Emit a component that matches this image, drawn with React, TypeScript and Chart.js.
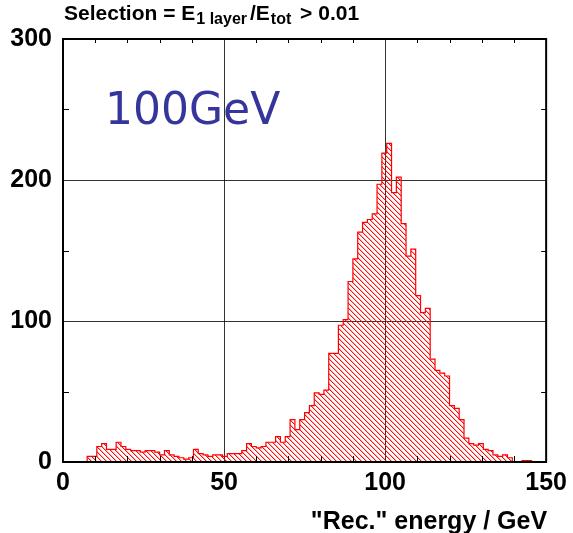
import React, { useEffect, useRef } from 'react';
import { Chart, registerables } from 'chart.js';
Chart.register(...registerables);

// Histogram: 100 bins from 0 to 150 GeV
const BIN_MIN = 0;
const BIN_WIDTH = 1.5;
const counts = [
  0, 0, 0, 0, 0, 4, 4, 11, 13, 9,
  9, 14, 11, 9, 8, 8, 7, 8, 8, 7,
  5, 8, 5, 4, 3, 2, 3, 9, 6, 5,
  4, 5, 5, 4, 6, 6, 6, 8, 13, 11,
  10, 11, 14, 14, 18, 14, 18, 30, 23, 30,
  35, 40, 49, 48, 51, 77, 77, 97, 101, 128,
  144, 163, 170, 172, 176, 197, 219, 226, 191, 202,
  169, 146, 151, 118, 106, 109, 73, 65, 63, 61,
  40, 38, 30, 17, 13, 12, 13, 9, 8, 5,
  4, 5, 3, 0, 0, 1, 1, 0, 0, 0,
];
const xMajorTicks = [0, 50, 100, 150];
const xMinorTicks = [10, 20, 30, 40, 60, 70, 80, 90, 110, 120, 130, 140];
const yMajorTicks = [0, 100, 200, 300];
const yMinorTicks = [50, 150, 250];
const titleParts = [
  { text: 'Selection = E', sub: false },
  { text: '1 layer', sub: true },
  { text: '/E', sub: false },
  { text: 'tot', sub: true },
  { text: ' > 0.01', sub: false },
];
const xAxisTitle = '"Rec." energy / GeV';
const energyLabel = '100GeV';

const FONT = '"Liberation Sans", Arial, Helvetica, sans-serif';

function makeHatch(): CanvasPattern | string {
  const n = 5;
  const c = document.createElement('canvas');
  c.width = n;
  c.height = n;
  const g = c.getContext('2d');
  if (!g) return 'rgba(255,0,0,0.3)';
  for (let i = 0; i < n; i++) {
    g.fillStyle = 'rgba(255,0,0,0.95)';
    g.fillRect(i, i, 1, 1);
    g.fillStyle = 'rgba(255,0,0,0.3)';
    g.fillRect((i + 1) % n, i, 1, 1);
  }
  const p = g.createPattern(c, 'repeat');
  return p || 'rgba(255,0,0,0.3)';
}

const overlayPlugin = {
  id: 'overlay',
  afterDatasetsDraw(chart: any) {
    const { ctx, chartArea: a, scales } = chart;
    const xs = scales.x;
    const ys = scales.y;
    ctx.save();
    ctx.strokeStyle = '#000';
    ctx.lineWidth = 1;
    ctx.beginPath();
    for (const v of xMinorTicks) {
      const px = Math.round(xs.getPixelForValue(v)) + 0.5;
      ctx.moveTo(px, a.bottom);
      ctx.lineTo(px, a.bottom - 6);
      ctx.moveTo(px, a.top);
      ctx.lineTo(px, a.top + 4);
    }
    for (const v of yMinorTicks) {
      const py = Math.round(ys.getPixelForValue(v)) + 0.5;
      ctx.moveTo(a.left, py);
      ctx.lineTo(a.left + 6, py);
      ctx.moveTo(a.right, py);
      ctx.lineTo(a.right - 5, py);
    }
    ctx.stroke();
    ctx.lineWidth = 2;
    ctx.strokeRect(a.left, a.top, a.right - a.left, a.bottom - a.top);
    ctx.restore();
  },
  afterDraw(chart: any) {
    const { ctx, chartArea: a } = chart;
    ctx.save();
    ctx.fillStyle = '#000';
    ctx.textBaseline = 'alphabetic';
    // Title with subscripts
    let x = a.left + 1;
    const baseY = 20;
    for (const p of titleParts) {
      ctx.font = p.sub ? `bold 16px ${FONT}` : `bold 21px ${FONT}`;
      if (p.sub) x += 1;
      ctx.fillText(p.text, x, p.sub ? baseY + 4 : baseY);
      x += ctx.measureText(p.text).width + (p.sub ? 3 : 0);
    }
    // X axis title
    ctx.font = `bold 25px ${FONT}`;
    ctx.textAlign = 'right';
    ctx.fillText(xAxisTitle, a.right + 1, 529);
    // Energy label
    ctx.textAlign = 'left';
    ctx.font = `44px "DejaVu Sans", sans-serif`;
    ctx.fillStyle = '#35359c';
    ctx.fillText(energyLabel, a.left + 42, a.top + 85);
    ctx.restore();
  },
};

export default function App() {
  const ref = useRef<HTMLCanvasElement | null>(null);
  useEffect(() => {
    if (!ref.current) return;
    const points = counts.map((c, i) => ({ x: BIN_MIN + i * BIN_WIDTH, y: c }));
    points.push({ x: BIN_MIN + counts.length * BIN_WIDTH, y: 0 });
    const chart = new Chart(ref.current, {
      type: 'line',
      data: {
        datasets: [
          {
            data: points,
            stepped: true,
            borderColor: '#ff0000',
            borderWidth: 1.2,
            backgroundColor: makeHatch() as any,
            fill: 'origin',
            pointRadius: 0,
            tension: 0,
          },
        ],
      },
      options: {
        animation: false,
        responsive: false,
        devicePixelRatio: 1,
        layout: { padding: { top: 39, right: 24, left: 0, bottom: 0 } },
        plugins: { legend: { display: false }, tooltip: { enabled: false }, title: { display: false } },
        scales: {
          x: {
            type: 'linear',
            min: 0,
            max: 150,
            afterFit: (s: any) => { s.height = 71; },
            afterBuildTicks: (s: any) => { s.ticks = xMajorTicks.map((v) => ({ value: v })); },
            ticks: {
              font: { family: FONT, size: 25, weight: 'bold' },
              color: '#000',
              padding: 6,
              maxRotation: 0,
              autoSkip: false,
            },
            grid: { color: 'rgba(0,0,0,0.8)', lineWidth: 1, drawTicks: false },
            border: { display: false },
          },
          y: {
            min: 0,
            max: 300,
            afterFit: (s: any) => { s.width = 63; },
            afterBuildTicks: (s: any) => { s.ticks = yMajorTicks.map((v) => ({ value: v })); },
            ticks: {
              font: { family: FONT, size: 25, weight: 'bold' },
              color: '#000',
              padding: 11,
              autoSkip: false,
            },
            grid: { color: 'rgba(0,0,0,0.8)', lineWidth: 1, drawTicks: false },
            border: { display: false },
          },
        },
      },
      plugins: [overlayPlugin],
    });
    return () => chart.destroy();
  }, []);
  return (
    <div style={{ position: 'absolute', left: 0, top: 0, width: 573, height: 533, background: '#fff' }}>
      <canvas ref={ref} width={573} height={533} style={{ display: 'block' }} />
    </div>
  );
}
